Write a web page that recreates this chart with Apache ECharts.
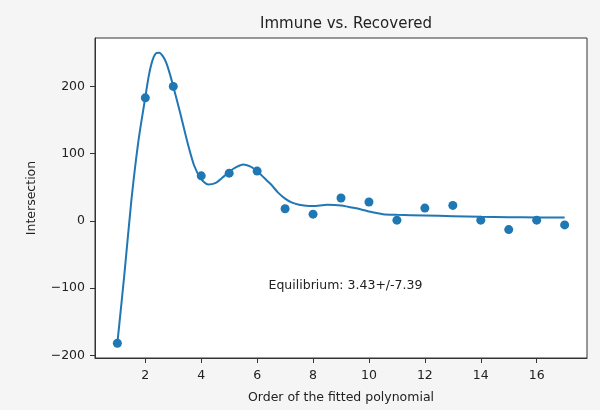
<!DOCTYPE html>
<html>
<head>
<meta charset="utf-8">
<script src="https://cdn.jsdelivr.net/npm/echarts@6/dist/echarts.min.js"></script>
<style>
  html, body { margin: 0; padding: 0; background: #f5f5f5; }
  #chart { width: 600px; height: 410px; }
</style>
</head>
<body>
<div id="chart"></div>
<script>
// polynomial order vs intersection
const orders = [1, 2, 3, 4, 5, 6, 7, 8, 9, 10, 11, 12, 13, 14, 15, 16, 17];
const intersections = [-182, 183, 200, 67, 71, 74, 18, 10, 34, 28, 1, 19, 23, 1, -13, 1, -6];

// smoothed fit
const fitX = [1, 1.25, 1.5, 1.75, 2, 2.125, 2.25, 2.375, 2.5, 2.625, 2.75, 2.875, 3, 3.25, 3.5, 3.75, 4, 4.25, 4.5, 4.75, 5, 5.25, 5.5, 5.75, 6, 6.25, 6.5, 6.75, 7, 7.25, 7.5, 7.75, 8, 8.5, 9, 9.5, 10, 10.5, 11, 12, 13, 14, 15, 16, 17];
const fitY = [-182, -80, 30, 118, 184, 216, 238, 249, 250, 245, 235, 219, 200, 160, 118, 82, 62, 54, 56, 64, 73, 80, 84, 81, 74, 64, 54, 42, 33, 27, 24, 22.5, 22, 24, 23, 19, 14, 10, 9, 8, 7, 6, 5.5, 5, 5];

const xTicks = [2, 4, 6, 8, 10, 12, 14, 16];
const yTicks = [-200, -100, 0, 100, 200];
const note = "Equilibrium: 3.43+/-7.39";

const blue = "#1f77b4";
const font = "DejaVu Sans";

let chart = echarts.init(document.getElementById("chart"));
let option = {
  backgroundColor: "#f5f5f5",
  animation: false,
  title: {
    text: "Immune vs. Recovered",
    left: 341,
    top: 12,
    textAlign: "center",
    textStyle: { fontFamily: font, fontSize: 15, fontWeight: "normal", color: "#222" },
  },
  grid: {
    left: 95,
    top: 38,
    width: 492,
    height: 320,
    show: true,
    backgroundColor: "#fff",
    borderColor: "#333",
    borderWidth: 1,
  },
  xAxis: {
    type: "value",
    min: 0.2,
    max: 17.8,
    name: "Order of the fitted polynomial",
    nameLocation: "middle",
    nameGap: 33,
    nameTextStyle: { fontFamily: font, fontSize: 12.5, color: "#222" },
    axisLine: { show: true, onZero: false, lineStyle: { color: "#333" } },
    splitLine: { show: false },
    axisTick: { show: true, length: 5, customValues: xTicks, lineStyle: { color: "#333", width: 1 } },
    axisLabel: { customValues: xTicks, margin: 11, fontFamily: font, fontSize: 12.5, color: "#222" },
  },
  yAxis: {
    type: "value",
    min: -204,
    max: 272,
    name: "Intersection",
    nameLocation: "middle",
    nameGap: 57,
    nameTextStyle: { fontFamily: font, fontSize: 12.5, color: "#222" },
    axisLine: { show: true, onZero: false, lineStyle: { color: "#333" } },
    splitLine: { show: false },
    axisTick: { show: true, length: 5, customValues: yTicks, lineStyle: { color: "#333", width: 1 } },
    axisLabel: {
      customValues: yTicks,
      margin: 10,
      fontFamily: font,
      fontSize: 12.5,
      color: "#222",
      formatter: (v) => String(v).replace("-", "\u2212"),
    },
  },
  series: [
    {
      type: "line",
      data: fitX.map((x, i) => [x, fitY[i]]),
      smooth: 0.25,
      showSymbol: false,
      lineStyle: { color: blue, width: 2 },
      z: 2,
    },
    {
      type: "scatter",
      data: orders.map((x, i) => [x, intersections[i]]),
      symbolSize: 9,
      itemStyle: { color: blue, opacity: 1 },
      z: 3,
      markPoint: {
        symbol: "circle",
        symbolSize: 0,
        data: [{ coord: [9.16, -96], value: note }],
        label: {
          show: true,
          position: "inside",
          formatter: note,
          fontFamily: font,
          fontSize: 12.5,
          color: "#222",
        },
      },
    },
  ],
};
chart.setOption(option);
</script>
</body>
</html>
